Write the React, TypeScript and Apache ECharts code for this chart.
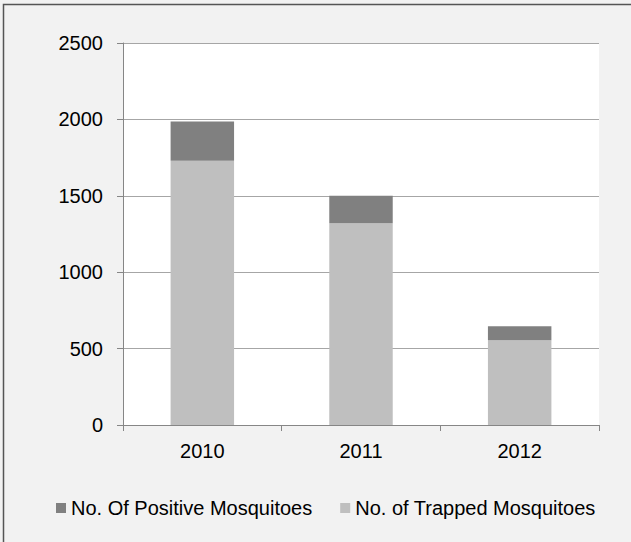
import React, { useEffect, useRef } from "react";
import * as echarts from "echarts";

const categories = ["2010", "2011", "2012"];
const trapped = [1730, 1320, 555];
const positive = [257, 181, 91];
const yTicks = [0, 500, 1000, 1500, 2000, 2500];
const seriesNames = ["No. Of Positive Mosquitoes", "No. of Trapped Mosquitoes"];

export default function App() {
  const ref = useRef<HTMLDivElement>(null);
  useEffect(() => {
    if (!ref.current) return;
    const chart = echarts.init(ref.current, undefined, { renderer: "svg" });
    const font = "'Liberation Sans', Arial, sans-serif";
    chart.setOption({
      animation: false,
      backgroundColor: "#f2f2f2",
      textStyle: { fontFamily: font },
      grid: {
        left: 123,
        right: 32,
        top: 43,
        bottom: 117,
        containLabel: false,
        show: true,
        backgroundColor: "#ffffff",
        borderWidth: 0,
      },
      graphic: [
        {
          type: "polyline",
          shape: { points: [[3.5, 542], [3.5, 4.5], [631, 4.5]] },
          style: { stroke: "#555555", lineWidth: 1.5, fill: null },
          silent: true,
        },
      ],
      legend: {
        data: seriesNames,
        left: 51,
        top: 493,
        icon: "rect",
        itemWidth: 10,
        itemHeight: 10,
        itemGap: 28,
        textStyle: { fontFamily: font, fontSize: 20, color: "#000" },
      },
      xAxis: {
        type: "category",
        data: categories,
        axisLine: { show: true, lineStyle: { color: "#868686", width: 1 } },
        axisTick: { show: true, length: 6, lineStyle: { color: "#868686" } },
        axisLabel: { margin: 16, fontSize: 20, color: "#000", fontFamily: font },
      },
      yAxis: {
        type: "value",
        min: yTicks[0],
        max: yTicks[yTicks.length - 1],
        interval: 500,
        axisLine: { show: true, lineStyle: { color: "#868686", width: 1 } },
        axisTick: { show: true, length: 6, lineStyle: { color: "#868686" } },
        axisLabel: {
          margin: 20,
          fontSize: 20,
          color: "#000",
          fontFamily: font,
          formatter: (v: number) => String(v),
        },
        splitLine: { show: true, lineStyle: { color: "#a6a6a6", width: 1 } },
      },
      series: [
        {
          name: seriesNames[1],
          type: "bar",
          stack: "total",
          barWidth: "40%",
          data: trapped,
          itemStyle: { color: "#bfbfbf" },
        },
        {
          name: seriesNames[0],
          type: "bar",
          stack: "total",
          barWidth: "40%",
          data: positive,
          itemStyle: { color: "#808080" },
        },
      ],
    });
    return () => chart.dispose();
  }, []);
  return (
    <div
      ref={ref}
      style={{ position: "fixed", left: 0, top: 0, width: 631, height: 542 }}
    />
  );
}
